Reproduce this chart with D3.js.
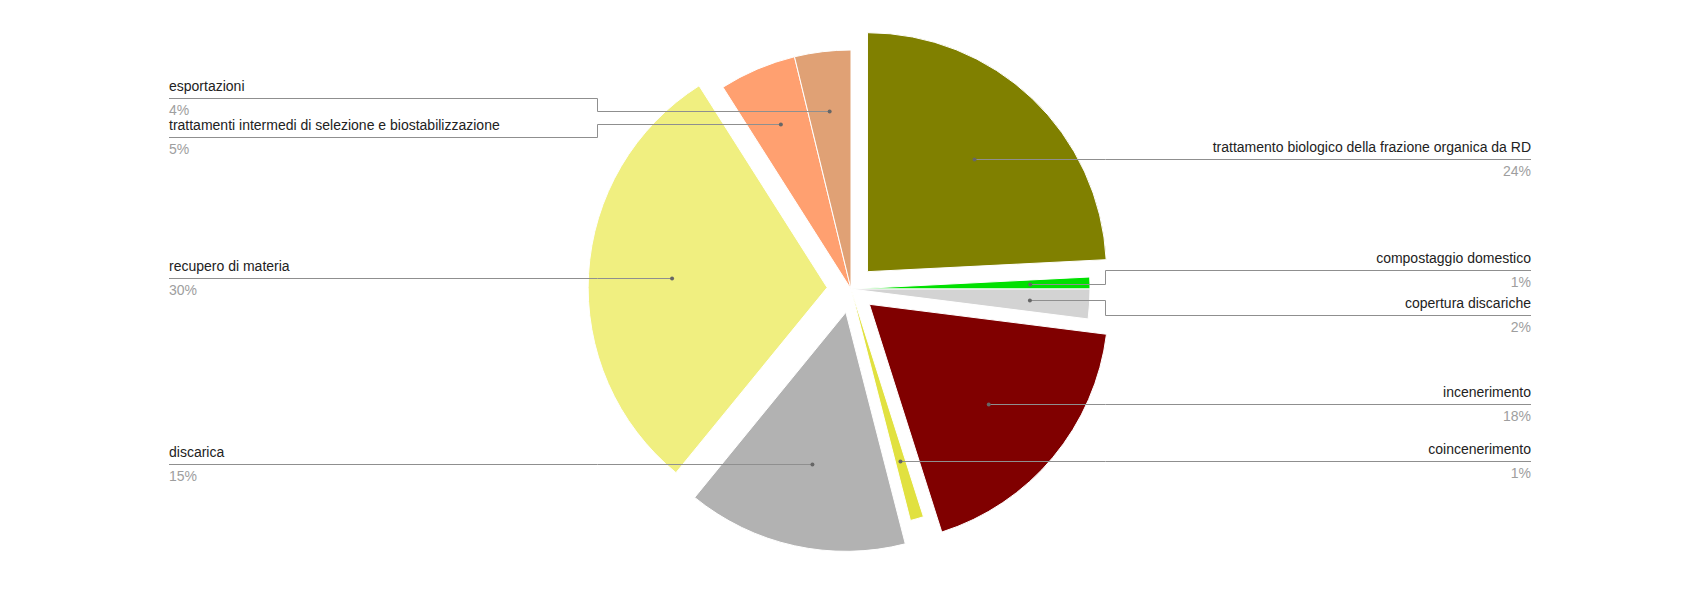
<!DOCTYPE html>
<html>
<head>
<meta charset="utf-8">
<script src="https://cdn.jsdelivr.net/npm/d3@7"></script>
<style>
body { margin: 0; background: #fff; }
svg { display: block; font-family: "Liberation Sans", Arial, sans-serif; }
</style>
</head>
<body>
<svg width="1701" height="600"></svg>
<script>
var categories = [
    "trattamento biologico della frazione organica da RD",
    "compostaggio domestico",
    "copertura discariche",
    "incenerimento",
    "coincenerimento",
    "discarica",
    "recupero di materia",
    "trattamenti intermedi di selezione e biostabilizzazione",
    "esportazioni"
];
var values = [24.2, 0.8, 2.0, 18.1, 0.9, 14.9, 30.1, 5.2, 3.8];
var colors = ["#808000", "#00e000", "#d3d3d3", "#800000", "#e1e140", "#b2b2b2", "#f0ef80", "#ffa070", "#e0a175"];
var exploded = [true, false, false, true, false, true, true, false, false];

var svg = d3.select("svg"),
    width = 1701,
    height = 600;

var cx = 851, cy = 289, radius = 239,
    offset = 0.1 * radius,   // exploded slices move out by 10% of radius
    dotR = 0.75 * radius,     // leader dot sits at 75% of radius
    bend = 254,               // x distance from centre where leaders bend
    labelLeft = 169, labelRight = 1531,
    gap = {left: 39, right: 45};

var data = categories.map(function (c, i) {
    return {name: c, value: values[i], color: colors[i], explode: exploded[i]};
});
var total = d3.sum(values);

var pie = d3.pie().sort(null).value(function (d) { return d.value; });
var arc = d3.arc().innerRadius(0).outerRadius(radius);
var arcs = pie(data);

function mid(d) { return (d.startAngle + d.endAngle) / 2; }

var g = svg.append("g").attr("transform", "translate(" + cx + "," + cy + ")");

g.selectAll(".slice")
    .data(arcs)
    .enter()
    .append("path")
    .attr("class", "slice")
    .attr("d", arc)
    .attr("fill", function (d) { return d.data.color; })
    .attr("stroke", "#fff")
    .attr("stroke-width", 1)
    .attr("transform", function (d) {
        if (!d.data.explode) return null;
        var m = mid(d);
        return "translate(" + (Math.sin(m) * offset) + "," + (-Math.cos(m) * offset) + ")";
    });

// label placement
var labels = arcs.map(function (d) {
    var m = mid(d);
    var x = cx + Math.sin(m) * dotR,
        y = cy - Math.cos(m) * dotR;
    return {
        name: d.data.name,
        pct: Math.round(d.data.value / total * 100) + "%",
        dx: x, dy: y, ly: y,
        side: Math.sin(m) >= 0 ? "right" : "left"
    };
});

function spread(list, minGap) {
    list.sort(function (a, b) { return a.dy - b.dy; });
    for (var iter = 0; iter < 100; iter++) {
        var moved = false;
        for (var i = 1; i < list.length; i++) {
            var diff = list[i].ly - list[i - 1].ly;
            if (diff < minGap - 0.01) {
                var s = (minGap - diff) / 2;
                list[i].ly += s;
                list[i - 1].ly -= s;
                moved = true;
            }
        }
        if (!moved) break;
    }
}
spread(labels.filter(function (l) { return l.side === "left"; }), gap.left);
spread(labels.filter(function (l) { return l.side === "right"; }), gap.right);

var lg = svg.append("g").attr("class", "labels");

var lab = lg.selectAll(".label")
    .data(labels)
    .enter()
    .append("g")
    .attr("class", "label");

lab.append("path")
    .attr("fill", "none")
    .attr("stroke", "#8f8f8f")
    .attr("stroke-width", 1)
    .attr("d", function (d) {
        var ly = Math.round(d.ly) + 0.5,
            dy = Math.round(d.dy) + 0.5;
        var bx = d.side === "right" ? Math.round(cx + bend) + 0.5 : Math.round(cx - bend) + 0.5;
        var ex = d.side === "right" ? labelRight : labelLeft;
        return "M" + d.dx + "," + dy + "H" + bx + "V" + ly + "H" + ex;
    });

lab.append("circle")
    .attr("cx", function (d) { return d.dx; })
    .attr("cy", function (d) { return Math.round(d.dy) + 0.5; })
    .attr("r", 2)
    .attr("fill", "#666");

lab.append("text")
    .attr("x", function (d) { return d.side === "right" ? labelRight : labelLeft; })
    .attr("y", function (d) { return Math.round(d.ly) - 7; })
    .attr("text-anchor", function (d) { return d.side === "right" ? "end" : "start"; })
    .attr("font-size", 14)
    .attr("fill", "#222")
    .text(function (d) { return d.name; });

lab.append("text")
    .attr("x", function (d) { return d.side === "right" ? labelRight : labelLeft; })
    .attr("y", function (d) { return Math.round(d.ly) + 17; })
    .attr("text-anchor", function (d) { return d.side === "right" ? "end" : "start"; })
    .attr("font-size", 14)
    .attr("fill", "#9e9e9e")
    .text(function (d) { return d.pct; });
</script>
</body>
</html>
